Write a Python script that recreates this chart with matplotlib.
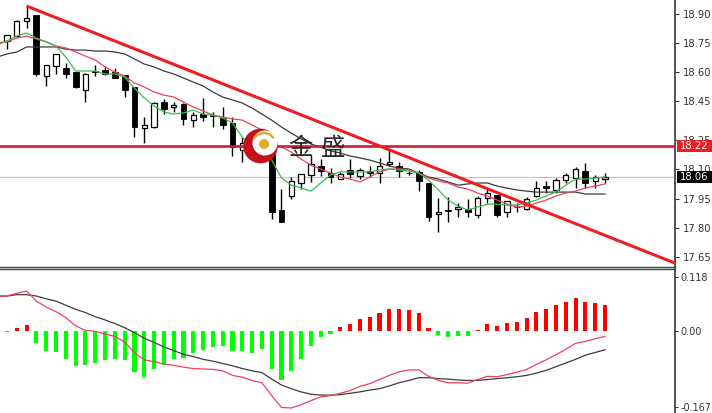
import numpy as np
import matplotlib
matplotlib.use('Agg')
import matplotlib.pyplot as plt
from matplotlib.patches import Circle, Wedge, Rectangle

# candles
high = [18.793,18.870,18.942,18.896,18.638,18.695,18.648,18.602,18.597,18.638,18.633,18.622,18.586,18.525,18.370,18.447,18.463,18.447,18.442,18.396,18.468,18.396,18.421,18.370,18.267,18.262,18.267,18.220,17.999,18.061,18.076,18.174,18.153,18.107,18.087,18.153,18.107,18.117,18.159,18.205,18.138,18.092,18.097,18.030,17.952,17.958,17.927,17.947,17.963,18.004,17.968,17.937,17.927,17.958,18.040,18.040,18.056,18.081,18.112,18.133,18.071,18.081]
body_top = [18.793,18.865,18.880,18.896,18.638,18.695,18.622,18.602,18.592,18.607,18.612,18.602,18.586,18.525,18.329,18.442,18.447,18.432,18.437,18.380,18.385,18.380,18.365,18.339,18.236,18.220,18.215,18.215,17.891,18.040,18.076,18.128,18.117,18.081,18.076,18.097,18.097,18.092,18.117,18.138,18.117,18.083,18.087,18.030,17.880,17.891,17.906,17.896,17.952,17.978,17.968,17.937,17.908,17.947,18.004,18.014,18.045,18.071,18.102,18.092,18.061,18.061]
body_bot = [18.762,18.787,18.865,18.592,18.581,18.633,18.592,18.525,18.509,18.602,18.592,18.571,18.509,18.318,18.313,18.318,18.411,18.421,18.360,18.354,18.370,18.375,18.329,18.215,18.200,18.189,18.189,17.880,17.829,17.963,18.030,18.071,18.092,18.061,18.050,18.076,18.066,18.081,18.081,18.128,18.092,18.081,18.040,17.854,17.870,17.885,17.896,17.880,17.865,17.952,17.865,17.880,17.906,17.896,17.963,18.004,17.994,18.045,18.056,18.030,18.040,18.050]
low = [18.720,18.782,18.829,18.581,18.530,18.592,18.571,18.519,18.447,18.581,18.586,18.571,18.473,18.267,18.236,18.313,18.385,18.396,18.329,18.318,18.349,18.318,18.308,18.169,18.138,18.174,18.164,17.844,17.829,17.947,17.999,18.035,18.066,18.030,18.050,18.056,18.050,18.061,18.030,18.117,18.061,18.071,17.988,17.834,17.777,17.829,17.854,17.854,17.849,17.927,17.854,17.854,17.880,17.891,17.958,17.978,17.978,18.030,18.004,18.004,18.004,18.030]
# 1 = white candle, 0 = black
is_up = [1,1,1,0,1,1,0,0,1,0,0,0,0,0,1,1,0,1,0,1,0,0,0,0,1,1,1,0,0,1,1,1,0,0,1,0,1,0,1,1,0,0,0,0,1,0,1,0,1,1,0,1,0,1,1,0,1,1,1,0,1,1]

# moving averages, first value sits one bar left of the first candle
ma_green = [18.741,18.762,18.787,18.803,18.777,18.757,18.736,18.679,18.607,18.607,18.607,18.592,18.592,18.576,18.519,18.468,18.427,18.396,18.385,18.391,18.406,18.385,18.380,18.365,18.339,18.267,18.210,18.174,18.148,18.056,18.019,18.004,17.988,18.030,18.071,18.087,18.087,18.087,18.087,18.097,18.102,18.097,18.092,18.081,18.045,17.994,17.942,17.911,17.891,17.906,17.921,17.921,17.916,17.916,17.927,17.942,17.963,17.983,18.019,18.050,18.050,18.056,18.061]
ma_red = [18.752,18.757,18.777,18.787,18.772,18.757,18.736,18.726,18.705,18.684,18.664,18.628,18.602,18.581,18.545,18.525,18.499,18.483,18.473,18.447,18.421,18.401,18.380,18.370,18.360,18.354,18.329,18.303,18.236,18.215,18.189,18.153,18.122,18.102,18.081,18.061,18.050,18.035,18.061,18.087,18.102,18.102,18.097,18.081,18.056,18.040,18.030,18.009,17.999,17.978,17.963,17.942,17.921,17.906,17.911,17.927,17.942,17.963,17.978,17.988,18.004,18.014,18.025]
ma_dark = [18.679,18.695,18.705,18.731,18.731,18.731,18.731,18.720,18.715,18.715,18.710,18.710,18.705,18.695,18.669,18.643,18.628,18.607,18.592,18.571,18.550,18.530,18.499,18.473,18.458,18.442,18.416,18.385,18.354,18.318,18.287,18.257,18.231,18.215,18.195,18.184,18.169,18.159,18.148,18.133,18.117,18.107,18.102,18.081,18.061,18.050,18.035,18.019,18.025,18.030,18.030,18.014,18.004,17.994,17.988,17.983,17.983,17.983,17.983,17.983,17.973,17.973,17.973]

# macd panel
hist = [-0.002,0.006,0.013,-0.027,-0.044,-0.045,-0.061,-0.076,-0.074,-0.069,-0.063,-0.061,-0.063,-0.090,-0.100,-0.084,-0.074,-0.061,-0.059,-0.049,-0.042,-0.034,-0.032,-0.044,-0.044,-0.049,-0.040,-0.082,-0.108,-0.087,-0.061,-0.032,-0.014,-0.006,0.008,0.016,0.027,0.031,0.040,0.048,0.048,0.045,0.038,0.006,-0.009,-0.014,-0.012,-0.012,0.002,0.014,0.010,0.018,0.019,0.028,0.041,0.048,0.056,0.063,0.071,0.064,0.060,0.056]
sig_dark = [0.076,0.076,0.079,0.079,0.076,0.070,0.065,0.056,0.047,0.040,0.031,0.024,0.016,0.007,-0.004,-0.016,-0.025,-0.035,-0.043,-0.051,-0.056,-0.062,-0.066,-0.071,-0.076,-0.082,-0.087,-0.091,-0.105,-0.118,-0.126,-0.133,-0.138,-0.140,-0.140,-0.139,-0.136,-0.133,-0.129,-0.126,-0.120,-0.113,-0.108,-0.102,-0.102,-0.104,-0.105,-0.107,-0.108,-0.108,-0.106,-0.104,-0.102,-0.100,-0.097,-0.092,-0.086,-0.078,-0.070,-0.062,-0.053,-0.047,-0.041]
sig_red = [0.076,0.076,0.082,0.087,0.065,0.052,0.042,0.029,0.011,0.001,-0.001,-0.007,-0.012,-0.024,-0.048,-0.063,-0.067,-0.072,-0.075,-0.079,-0.082,-0.083,-0.084,-0.087,-0.097,-0.101,-0.108,-0.113,-0.141,-0.167,-0.168,-0.161,-0.152,-0.144,-0.141,-0.136,-0.130,-0.121,-0.115,-0.106,-0.097,-0.089,-0.085,-0.085,-0.099,-0.108,-0.113,-0.113,-0.114,-0.106,-0.099,-0.100,-0.095,-0.090,-0.084,-0.073,-0.063,-0.052,-0.040,-0.027,-0.023,-0.017,-0.012]

price_ticks = [18.90,18.75,18.60,18.45,18.25,18.10,17.95,17.80,17.65]
macd_ticks = [0.118,0.00,-0.167]
macd_labels = ['0.118','0.00','-0.167']
level_price = 18.22
last_price = 18.06
trend_x = [2,68.14]
trend_y = [18.942,17.617]

W,H = 712,413
fig = plt.figure(figsize=(W/100,H/100),dpi=100,facecolor='white')
ax = fig.add_axes([0,1-267/H,675/W,267/H])
ax2 = fig.add_axes([0,0,675/W,(H-269)/H])

x = np.arange(len(high))
x_ma = np.arange(-1,len(high))
is_up = np.array(is_up,dtype=bool)
body_top = np.array(body_top)
body_bot = np.array(body_bot)

ax.axhline(last_price,color='#c4c4c4',lw=0.8,zorder=1)
ax.vlines(x,low,high,color='black',lw=1.0,zorder=2)
ax.bar(x[is_up],(body_top-body_bot)[is_up],bottom=body_bot[is_up],width=0.55,color='white',edgecolor='black',lw=0.9,zorder=3)
ax.bar(x[~is_up],(body_top-body_bot)[~is_up],bottom=body_bot[~is_up],width=0.6,color='black',edgecolor='black',lw=0.6,zorder=3)
ax.plot(x_ma,ma_dark,color='#3c3c3c',lw=0.9,zorder=4)
ax.plot(x_ma,ma_red,color='#f0405a',lw=0.9,zorder=4)
ax.plot(x_ma,ma_green,color='#35c050',lw=0.9,zorder=4)
ax.axhline(level_price,color='#cc2030',lw=1.9,zorder=5)
ax.plot(trend_x,trend_y,color='#ee1c25',lw=2.2,zorder=5,solid_capstyle='butt')

ax.set_xlim(-0.714,68.14)
ax.set_ylim(17.597,18.973)
ax.set_xticks([])
ax.yaxis.tick_right()
ax.set_yticks(price_ticks,['%.2f'%t for t in price_ticks])
ax.tick_params(axis='y',length=3,width=0.8,color='#333333',pad=3,labelsize=7.2,labelcolor='#333333')

colors = ['#00ff00' if h<0 else '#ff0000' for h in hist]
ax2.bar(x,hist,width=0.42,color=colors,zorder=2)
ax2.plot(x_ma,sig_dark,color='#3c3c3c',lw=0.9,zorder=3)
ax2.plot(x_ma,sig_red,color='#ee4060',lw=0.9,zorder=3)
ax2.set_xlim(-0.714,68.14)
ax2.set_ylim(-0.179,0.135)
ax2.set_xticks([])
ax2.yaxis.tick_right()
ax2.set_yticks(macd_ticks,macd_labels)
ax2.tick_params(axis='y',length=2,width=0.8,color='#333333',pad=2,labelsize=6.9,labelcolor='#333333')

for a in (ax,ax2):
    a.spines['left'].set_visible(False)
    a.spines['right'].set_color('#444444')
    a.spines['right'].set_linewidth(1.3)
ax.spines['top'].set_visible(False)
ax.spines['bottom'].set_color('#444444')
ax.spines['bottom'].set_linewidth(1.0)
ax2.spines['bottom'].set_visible(False)
ax2.spines['top'].set_color('#444444')
ax2.spines['top'].set_linewidth(1.0)

# logo, watermark and price tags, in pixels
ov = fig.add_axes([0,0,1,1])
ov.set_xlim(0,W)
ov.set_ylim(H,0)
ov.axis('off')
ov.patch.set_alpha(0)
ov.add_patch(Circle((260.5,146),17.3,fc='#c8101c',ec='none'))
ov.add_patch(Circle((265,143),12.5,fc='white',ec='none'))
ov.add_patch(Wedge((264,145),13,205,325,width=2.2,fc='#d8a820',ec='none'))
ov.add_patch(Circle((264,144),5,fc='#e0b020',ec='none'))
ov.text(300,148,'金',family=['Noto Sans CJK SC','DejaVu Sans'],fontsize=17.5,color='#2a2a2a',ha='center',va='center')
ov.text(333,148,'盛',family=['Noto Sans CJK SC','DejaVu Sans'],fontsize=17.5,color='#2a2a2a',ha='center',va='center')

y_of = lambda p: (18.973-p)*194
ov.add_patch(Rectangle((677,y_of(level_price)-6),35,12,fc='#ee1c25',ec='none',zorder=8))
ov.add_patch(Rectangle((677,y_of(last_price)-6),35,12,fc='black',ec='none',zorder=8))
ov.text(694.5,y_of(level_price),'%.2f'%level_price,color='white',fontsize=7.2,ha='center',va='center',zorder=9)
ov.text(694.5,y_of(last_price),'%.2f'%last_price,color='white',fontsize=7.2,ha='center',va='center',zorder=9)

fig.savefig('out.png',dpi=100)
